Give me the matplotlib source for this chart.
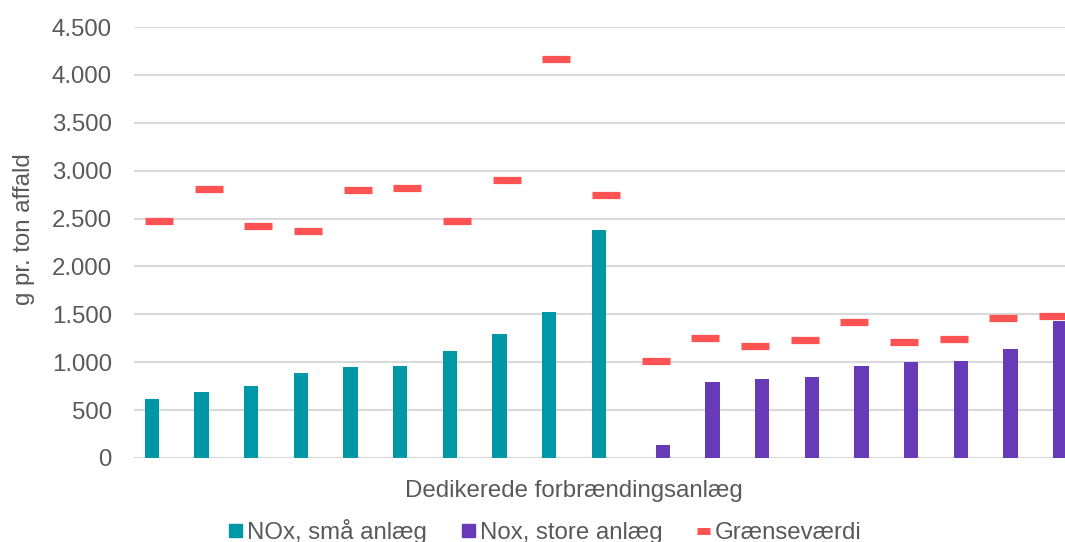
import numpy as np
import matplotlib
matplotlib.use("Agg")
import matplotlib.pyplot as plt
from matplotlib.ticker import FuncFormatter, MultipleLocator
from matplotlib.patches import Patch
from matplotlib.lines import Line2D

# data
nox_small = [613, 694, 752, 885, 955, 965, 1122, 1296, 1526, 2380]
nox_large = [133, 791, 822, 850, 961, 1003, 1010, 1133, 1432]
graense = [2479, 2810, 2426, 2367, 2799, 2823, 2479, 2904, 4168, 2743,
           1012, 1254, 1172, 1230, 1423, 1209, 1246, 1463, 1482]

labels = ["NOx, små anlæg", "Nox, store anlæg", "Grænseværdi"]
xlabel = "Dedikerede forbrændingsanlæg"
ylabel = "g pr. ton affald"

teal = "#0097A7"
purple = "#673AB7"
red = "#FF5252"
grey_txt = "#595959"
grid_c = "#D9D9D9"

plt.rcParams['font.family'] = ['Liberation Sans', 'DejaVu Sans']
fs = 17.3

n = len(graense)
x = np.arange(n)
small = np.full(n, np.nan)
small[:len(nox_small)] = nox_small
large = np.full(n, np.nan)
large[len(nox_small):] = nox_large

fig = plt.figure(figsize=(10.65, 5.42), dpi=100)
# plot area runs past the right edge, as in the cropped original
ax = fig.add_axes([134 / 1065, 84 / 542, 944 / 1065, 431 / 542])

bw = 0.285
ax.bar(x - bw / 2, small, width=bw, color=teal, zorder=3)
ax.bar(x + bw / 2, large, width=bw, color=purple, zorder=3)
ax.plot(x, graense, ls='none', marker='_', ms=20.5, mew=5.2, color=red, zorder=4)

ax.set_xlim(-0.5, n - 0.5)
ax.set_ylim(0, 4500)
ax.yaxis.set_major_locator(MultipleLocator(500))
ax.yaxis.set_major_formatter(FuncFormatter(lambda v, p: f"{int(v):,}".replace(',', '.')))
ax.grid(axis='y', color=grid_c, lw=1.5, zorder=0)
ax.set_xticks([])
for s in ax.spines.values():
    s.set_visible(False)
ax.tick_params(axis='y', length=0, pad=16, labelsize=fs, labelcolor=grey_txt)

fig.text(24 / 1065, 1 - 229 / 542, ylabel, rotation=90, ha='center', va='center',
         fontsize=fs, color=grey_txt)
fig.text(574 / 1065, 1 - 497 / 542, xlabel, ha='center', va='baseline',
         fontsize=fs, color=grey_txt)

handles = [Patch(color=teal), Patch(color=purple),
           Line2D([], [], color=red, lw=5, solid_capstyle='butt')]
fig.legend(handles, labels, ncol=3, frameon=False, loc='lower left',
           bbox_to_anchor=(229 / 1065, -0.004), fontsize=fs, labelcolor=grey_txt,
           handlelength=0.55, handleheight=0.5, handletextpad=0.2,
           columnspacing=1.45, borderpad=0, borderaxespad=0)

fig.savefig("out.png", dpi=100)
